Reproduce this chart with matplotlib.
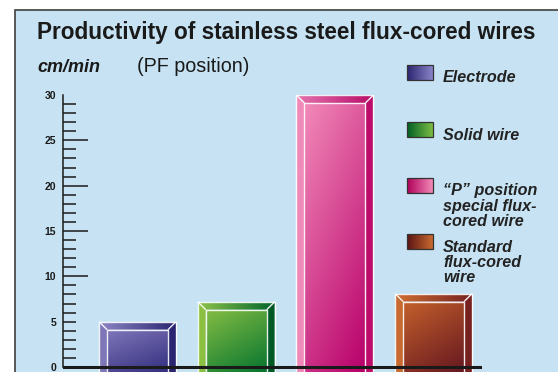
import numpy as np
import matplotlib
matplotlib.use('Agg')
import matplotlib.pyplot as plt
from matplotlib.colors import to_rgb
from matplotlib.patches import Polygon, Rectangle

plt.rcParams['font.family'] = ['Liberation Sans', 'DejaVu Sans']

# data (cm/min, PF position)
categories = ['Electrode', 'Solid wire',
              '\u201cP\u201d position\nspecial flux-\ncored wire',
              'Standard\nflux-cored\nwire']
speeds = [5.0, 7.2, 30.0, 8.1]
y_labels = [0, 5, 10, 15, 20, 25, 30]

# colours per bar: front top, front bottom, top-bevel left, top-bevel right, left side, right side, legend dark, legend light
bar_styles = [
    ('#8077ba', '#34307f', '#8e86c4', '#2b2672', '#7e77b8', '#2a2570', '#2a2570', '#8a85c8'),
    ('#84bd44', '#07752f', '#8fc44b', '#00652c', '#8cc040', '#005a25', '#005f25', '#7cbc45'),
    ('#f28ab9', '#b8006a', '#e574ad', '#b80d69', '#f08ab8', '#bd0c6b', '#b0005a', '#f28ab8'),
    ('#c4602c', '#661820', '#d06f33', '#762221', '#c86a30', '#772020', '#5a1414', '#c86a30'),
]

W, H = 558, 372
fig = plt.figure(figsize=(W / 100, H / 100), dpi=100, facecolor='white')

# background panel in pixel coordinates
bg = fig.add_axes([0, 0, 1, 1], zorder=0)
bg.set_xlim(0, W)
bg.set_ylim(H, 0)
bg.axis('off')
bg.add_patch(Rectangle((15, 10), 600, 400, fc='#c7e3f3', ec='#4d4d4d', lw=1.3))


def gradient(ax, poly, c0, c1, mode, zorder):
    xs = [p[0] for p in poly]
    ys = [p[1] for p in poly]
    u = np.linspace(0, 1, 80)
    X, Y = np.meshgrid(u, u)
    t = {'h': X, 'v': Y, 'd': 0.35 * X + 0.65 * Y}[mode]
    a, b = np.array(to_rgb(c0)), np.array(to_rgb(c1))
    img = a + (b - a) * t[..., None]
    clip = Polygon(poly, closed=True, fc='none', ec='none')
    ax.add_patch(clip)
    im = ax.imshow(img, extent=(min(xs), max(xs), min(ys), max(ys)), origin='upper',
                   aspect='auto', interpolation='bilinear', zorder=zorder)
    im.set_clip_path(clip)


# main axes
ax = fig.add_axes([63 / W, 0, 419 / W, 277 / H], zorder=1)
ax.patch.set_alpha(0)
x_lo, x_hi = -0.755, 3.49
y_lo, y_hi = -0.55, 30

bw = 0.78
bx, by = 0.081, 0.88
for i, (v, st) in enumerate(zip(speeds, bar_styles)):
    x0, x1 = i - bw / 2, i + bw / 2
    y0 = y_lo
    front = [(x0 + bx, y0), (x1 - bx, y0), (x1 - bx, v - by), (x0 + bx, v - by)]
    top = [(x0, v), (x1, v), (x1 - bx, v - by), (x0 + bx, v - by)]
    left = [(x0, y0), (x0, v), (x0 + bx, v - by), (x0 + bx, y0)]
    right = [(x1, y0), (x1, v), (x1 - bx, v - by), (x1 - bx, y0)]
    gradient(ax, front, st[0], st[1], 'd', 2)
    gradient(ax, top, st[2], st[3], 'h', 2)
    gradient(ax, left, st[4], st[4], 'h', 2)
    gradient(ax, right, st[5], st[5], 'h', 2)
    lc = dict(color='white', lw=1.0, alpha=0.9, zorder=3, solid_capstyle='butt')
    ax.plot([x0, x0, x1, x1], [y0, v, v, y0], **lc)
    ax.plot([x0 + bx, x0 + bx, x1 - bx, x1 - bx], [y0, v - by, v - by, y0], **lc)
    ax.plot([x0, x0 + bx], [v, v - by], **lc)
    ax.plot([x1, x1 - bx], [v, v - by], **lc)

ax.axhline(0, color='#1a1a1a', lw=2.2, zorder=4)
ax.set_xlim(x_lo, x_hi)
ax.set_ylim(y_lo, y_hi)
ax.set_xticks([])
for s in ['top', 'right', 'bottom']:
    ax.spines[s].set_visible(False)
ax.spines['left'].set_bounds(0, 30)
ax.spines['left'].set_linewidth(1.1)
ax.spines['left'].set_color('#1a1a1a')

ax.set_yticks(y_labels)
ax.set_yticklabels([str(v) for v in y_labels], fontsize=7.5, fontweight='bold', color='#1a1a1a')
ax.set_yticks([v for v in range(1, 30) if v % 5 != 0], minor=True)
ax.tick_params(axis='y', which='major', direction='in', length=18, width=1.1, color='#1a1a1a', pad=5)
ax.tick_params(axis='y', which='minor', direction='in', length=9, width=1.1, color='#1a1a1a')
for val, tk in zip(y_labels, ax.yaxis.get_major_ticks()):
    if val in (0, 30):
        tk.tick1line.set_visible(False)
    elif val == 5:
        tk.tick1line.set_markersize(9)

# titles
bg.text(37, 39, 'Productivity of stainless steel flux-cored wires', fontsize=16.3,
        fontweight='bold', color='#1a1a1a', va='baseline')
bg.text(37, 72, 'cm/min', fontsize=13, fontweight='bold', style='italic', color='#1a1a1a', va='baseline')
bg.text(137, 72, '(PF position)', fontsize=14.2, color='#1a1a1a', va='baseline')

# legend
leg_tops = [65, 122, 178, 234]
for name, st, ty in zip(categories, bar_styles, leg_tops):
    box = [(407, ty), (433, ty), (433, ty + 15), (407, ty + 15)]
    gradient(bg, box, st[6], st[7], 'h', 1)
    bg.add_patch(Polygon(box, closed=True, fc='none', ec='#333333', lw=0.9, zorder=2))
    for k, line in enumerate(name.split('\n')):
        bg.text(443, ty + 17.5 + 15.3 * k, line, fontsize=11.6, fontweight='bold',
                style='italic', color='#222222', va='baseline')

fig.savefig('out.png', dpi=100, facecolor='white')
